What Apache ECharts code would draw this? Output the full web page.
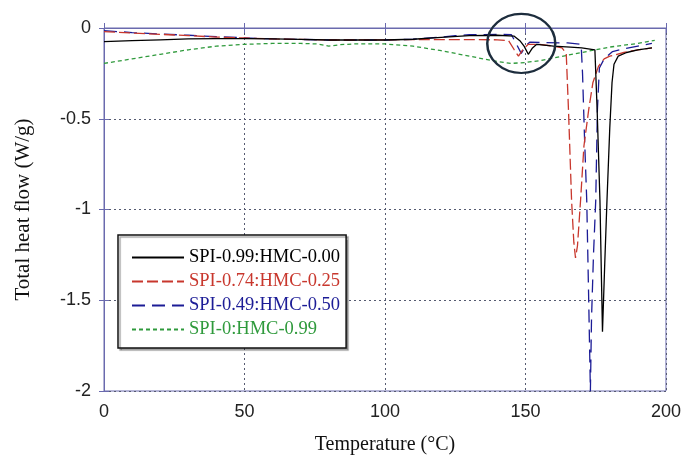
<!DOCTYPE html>
<html><head><meta charset="utf-8">
<script src="https://cdn.jsdelivr.net/npm/echarts@6/dist/echarts.min.js"></script>
<style>html,body{margin:0;padding:0;background:#fff}#c{width:684px;height:460px}</style>
</head><body><div id="c"></div>
<script>
const xTickLabels = [0, 50, 100, 150, 200];
const yTickLabels = [-2, -1.5, -1, -0.5, 0];
const seriesNames = ['SPI-0.99:HMC-0.00', 'SPI-0.74:HMC-0.25', 'SPI-0.49:HMC-0.50', 'SPI-0:HMC-0.99'];

const blackT = [0,10,20,30,40,50,60,70,80,90,100,110,120,130,140,146,148,149.5,151,152.5,154,160,166,170,174.7,175.5,176.5,177.4,178.2,179,180,180.8,181.5,183,186,190,195];
const blackV = [-0.075,-0.07,-0.065,-0.06,-0.058,-0.058,-0.06,-0.063,-0.066,-0.066,-0.066,-0.062,-0.052,-0.042,-0.04,-0.045,-0.07,-0.1,-0.145,-0.11,-0.09,-0.1,-0.105,-0.11,-0.12,-0.45,-0.95,-1.673,-1.3,-0.95,-0.55,-0.3,-0.2,-0.155,-0.135,-0.12,-0.11];

const redT = [0,10,20,30,40,50,60,70,80,90,100,110,120,130,140,144,146,147.5,149,151,155,160,163,164.5,165.3,166.4,167.2,167.8,168.5,169.6,170.8,172.5,174,176,178,180,185,190,195];
const redV = [-0.02,-0.028,-0.035,-0.042,-0.05,-0.055,-0.06,-0.063,-0.066,-0.066,-0.065,-0.064,-0.064,-0.064,-0.065,-0.07,-0.12,-0.155,-0.12,-0.09,-0.09,-0.1,-0.11,-0.14,-0.45,-0.95,-1.18,-1.267,-1.2,-0.95,-0.65,-0.45,-0.3,-0.21,-0.17,-0.155,-0.135,-0.12,-0.11];

const blueT = [0,10,20,30,40,50,60,70,80,90,100,110,120,125,130,140,145,146.5,148.5,150,151.5,155,165,169.8,170.3,171,171.8,172.5,173.1,173.5,174.2,175,175.6,176.3,178,181,185,190,195];
const blueV = [-0.015,-0.025,-0.033,-0.04,-0.048,-0.054,-0.06,-0.063,-0.066,-0.066,-0.066,-0.062,-0.05,-0.042,-0.037,-0.035,-0.037,-0.08,-0.14,-0.1,-0.078,-0.08,-0.082,-0.09,-0.25,-0.6,-0.95,-1.5,-2.0,-1.6,-1.25,-0.95,-0.45,-0.22,-0.17,-0.13,-0.115,-0.1,-0.085];

const greenT = [0,10,20,30,40,50,60,70,76,80,84,90,100,110,120,130,140,145,150,155,160,170,180,190,196];
const greenV = [-0.195,-0.17,-0.145,-0.12,-0.1,-0.09,-0.085,-0.085,-0.088,-0.1,-0.092,-0.087,-0.088,-0.1,-0.125,-0.155,-0.185,-0.195,-0.19,-0.18,-0.165,-0.135,-0.105,-0.085,-0.068];

const colors = ['#000000', '#c8372d', '#1c1c96', '#2f9a3c'];
const dashes = ['solid', [11, 4], [13, 7], [4, 3]];
const allT = [blackT, redT, blueT, greenT];
const allV = [blackV, redV, blueV, greenV];

const chart = echarts.init(document.getElementById('c'), null, {renderer: 'canvas'});
const axisColor = '#6a6aae';
const labelFont = {fontFamily: 'Liberation Sans', fontSize: 18, color: '#222'};
const serif = 'Liberation Serif';

const series = seriesNames.map((name, i) => ({
  name: name,
  type: 'line',
  showSymbol: false,
  symbol: 'none',
  xAxisIndex: 0, yAxisIndex: 0,
  data: allT[i].map((t, k) => [t, allV[i][k]]),
  lineStyle: {color: colors[i], width: 1.3, type: dashes[i]},
  itemStyle: {color: colors[i]},
  z: 4 - i
}));

chart.setOption({
  animation: false,
  grid: {left: 104, right: 18, top: 28, bottom: 69, show: true, borderColor: axisColor, borderWidth: 1},
  xAxis: [{
    type: 'value', min: 0, max: 200, interval: 50, position: 'bottom',
    name: 'Temperature (°C)', nameLocation: 'middle', nameGap: 44,
    nameTextStyle: {fontFamily: serif, fontSize: 20, color: '#111'},
    axisLine: {show: true, lineStyle: {color: axisColor}},
    axisTick: {show: true, inside: true, length: 5, lineStyle: {color: axisColor}},
    axisLabel: Object.assign({margin: 12, formatter: v => xTickLabels.includes(v) ? String(v) : ''}, labelFont),
    splitLine: {show: true, lineStyle: {color: '#555a70', type: [2, 3], width: 1}}
  }, {
    type: 'value', min: 0, max: 200, interval: 50, position: 'top',
    axisLine: {show: true, lineStyle: {color: axisColor}},
    axisTick: {show: true, inside: true, length: 5, lineStyle: {color: axisColor}},
    axisLabel: {show: false}, splitLine: {show: false}
  }],
  yAxis: [{
    type: 'value', min: -2, max: 0, interval: 0.5, position: 'left',
    name: 'Total heat flow (W/g)', nameLocation: 'middle', nameGap: 70,
    nameTextStyle: {fontFamily: serif, fontSize: 21, color: '#111'},
    axisLine: {show: true, lineStyle: {color: axisColor}},
    axisTick: {show: true, inside: true, length: 5, lineStyle: {color: axisColor}},
    axisLabel: Object.assign({margin: 13, formatter: v => yTickLabels.includes(v) ? String(v) : ''}, labelFont),
    splitLine: {show: true, lineStyle: {color: '#555a70', type: [2, 3], width: 1}}
  }, {
    type: 'value', min: -2, max: 0, interval: 0.5, position: 'right',
    axisLine: {show: true, lineStyle: {color: axisColor}},
    axisTick: {show: true, inside: true, length: 5, lineStyle: {color: axisColor}},
    axisLabel: {show: false}, splitLine: {show: false}
  }],
  legend: {
    orient: 'vertical', left: 118, top: 235,
    backgroundColor: '#fff', borderColor: '#111', borderWidth: 1.5,
    shadowColor: 'rgba(0,0,0,0.35)', shadowOffsetX: 2, shadowOffsetY: 2, shadowBlur: 1,
    padding: [12, 6, 8, 13], itemGap: 3, itemWidth: 52, itemHeight: 14,
    itemStyle: {opacity: 0},
    data: seriesNames.map((n, i) => ({name: n, textStyle: {color: colors[i]}})),
    textStyle: {fontFamily: serif, fontSize: 18.5, lineHeight: 21},
    selectedMode: false
  },
  series: series
});

// annotation ellipse around the small transitions near 150 °C
const c = chart.convertToPixel({xAxisIndex: 0, yAxisIndex: 0}, [148.5, -0.085]);
chart.setOption({
  graphic: [{
    type: 'circle', x: c[0], y: c[1], scaleY: 0.87,
    shape: {cx: 0, cy: 0, r: 34},
    style: {fill: 'none', stroke: '#1d2d3d', lineWidth: 2.5},
    z: 100
  }]
});
</script>
</body></html>
